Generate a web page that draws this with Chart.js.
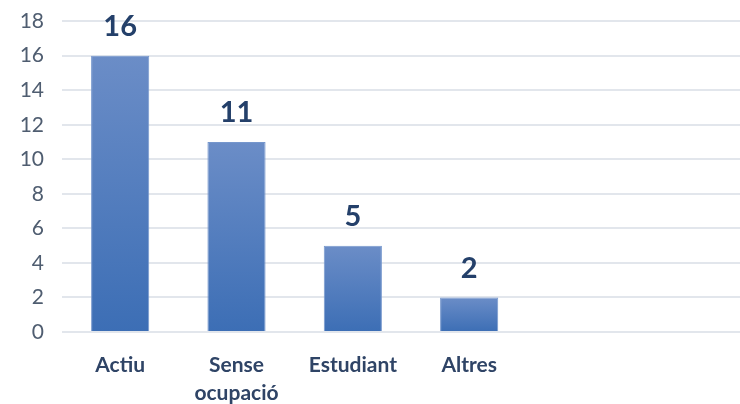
<!DOCTYPE html>
<html>
<head>
<meta charset="utf-8">
<script src="https://cdn.jsdelivr.net/npm/chart.js@4.4.0/dist/chart.umd.min.js"></script>
<style>
  html, body { margin: 0; padding: 0; background: #ffffff; overflow: hidden; }
  #wrap { width: 740px; height: 404px; overflow: hidden; }
  #box { width: 760px; height: 404px; }
</style>
</head>
<body>
<div id="wrap"><div id="box"><canvas id="occChart"></canvas></div></div>
<script>
// categories (two empty slots on the right, as in the original)
const categories = ['Actiu', ['Sense', 'ocupació'], 'Estudiant', 'Altres', '', ''];
const values = [16, 11, 5, 2, null, null];
const yTicks = [0, 2, 4, 6, 8, 10, 12, 14, 16, 18];

// value labels above the bars
const barValueLabels = {
    id: 'barValueLabels',
    afterDatasetsDraw(chart) {
        const ctx = chart.ctx;
        const meta = chart.getDatasetMeta(0);
        ctx.save();
        ctx.font = 'bold 29px Lato, "Open Sans", sans-serif';
        ctx.fillStyle = '#24406a';
        ctx.textAlign = 'center';
        ctx.textBaseline = 'middle';
        meta.data.forEach((bar, i) => {
            if (values[i] == null) return;
            ctx.fillText(values[i], bar.x, bar.y - 29);
        });
        ctx.restore();
    }
};

// gradient per bar, lighter on top
function barFill(context) {
    const chart = context.chart;
    const y = chart.scales.y;
    const v = context.raw;
    if (!chart.chartArea || !y || v == null) return '#4f7dbf';
    const top = y.getPixelForValue(v);
    const bottom = y.getPixelForValue(0);
    const g = chart.ctx.createLinearGradient(0, top, 0, bottom);
    g.addColorStop(0, '#6b8dc7');
    g.addColorStop(1, '#3c6eb5');
    return g;
}

const ctxOcc = document.getElementById('occChart').getContext('2d');
const occChart = new Chart(ctxOcc, {
    type: 'bar',
    data: {
        labels: categories,
        datasets: [{
            data: values,
            backgroundColor: barFill,
            borderColor: '#7697cd',
            borderWidth: 1,
            barPercentage: 0.5,
            categoryPercentage: 1.0
        }]
    },
    plugins: [barValueLabels],
    options: {
        responsive: true,
        maintainAspectRatio: false,
        animation: false,
        layout: { padding: 0 },
        plugins: {
            legend: { display: false },
            tooltip: { enabled: false }
        },
        scales: {
            x: {
                grid: { display: false },
                border: { display: false },
                ticks: {
                    color: '#2f4466',
                    font: { family: 'Lato, "Open Sans", sans-serif', size: 21, weight: 'bold', lineHeight: 1.35 },
                    maxRotation: 0,
                    minRotation: 0,
                    autoSkip: false,
                    padding: 11
                },
                afterFit: (scale) => { scale.height = 72; }
            },
            y: {
                min: 0,
                max: 18,
                afterBuildTicks: (scale) => { scale.ticks = yTicks.map(v => ({ value: v })); },
                grid: { color: '#e2e6ec', lineWidth: 2, drawTicks: false },
                border: { display: false },
                ticks: {
                    color: '#4f5d70',
                    // small lineHeight keeps the plot top close to the canvas edge
                    font: { family: 'Lato, "Open Sans", sans-serif', size: 21, lineHeight: 0.3 },
                    padding: 18
                },
                afterFit: (scale) => { scale.width = 62; }
            }
        }
    }
});
</script>
</body>
</html>
